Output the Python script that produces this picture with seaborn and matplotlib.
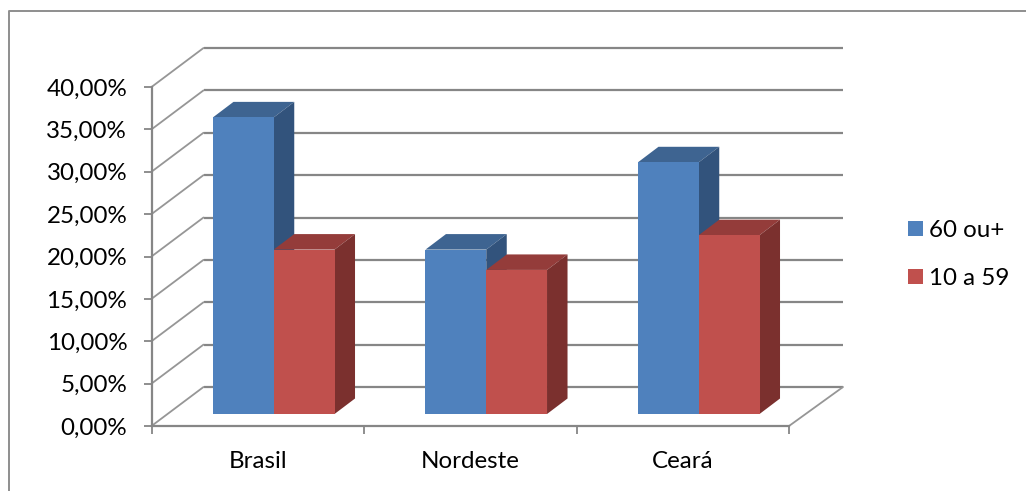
import matplotlib
matplotlib.use("Agg")
import matplotlib.pyplot as plt
from matplotlib.lines import Line2D
from matplotlib.patches import Polygon
from matplotlib.ticker import FixedLocator, FuncFormatter
from matplotlib.transforms import Affine2D
import pandas as pd
import seaborn as sns

# Share of each age group per region (%)
regions = ["Brasil", "Nordeste", "Ceará"]
age_groups = ["60 ou+", "10 a 59"]
values_60_plus = [35.0, 19.4, 29.7]
values_10_59 = [19.4, 17.0, 21.1]
y_ticks = [0, 5, 10, 15, 20, 25, 30, 35, 40]

FRONT = ["#4F81BD", "#C0504D"]
TOP = ["#3E6491", "#943C3A"]
SIDE = ["#32537C", "#7B302E"]
GRID = "#868686"
W, H = 1026, 491
FONT_SIZE = 17.4

sns.set_theme(style="white")
plt.rcParams["font.family"] = ["Lato", "DejaVu Sans"]

frame = pd.DataFrame({
    "region": regions * 2,
    "group": [age_groups[0]] * 3 + [age_groups[1]] * 3,
    "value": values_60_plus + values_10_59,
})

fig = plt.figure(figsize=(W / 100, H / 100), dpi=100, facecolor="white")
left, right, top, bottom = 151.5, 789.0, 87.0, 426.0
ax = fig.add_axes([left / W, (H - bottom) / H, (right - left) / W, (bottom - top) / H])
ax.patch.set_alpha(0)

sns.barplot(
    data=frame, x="region", y="value", hue="group",
    hue_order=age_groups, palette=FRONT, width=0.572, gap=0,
    saturation=1, linewidth=0, errorbar=None, ax=ax,
)
ax.set_xlim(-0.5, 2.5)
ax.set_ylim(0, 40)
ax.set_xlabel("")
ax.set_ylabel("")

# Pixel-to-data scale for the oblique projection
px_x = 3 / (right - left)
px_y = 40 / (bottom - top)
wall_dx, wall_dy = 52 * px_x, 39 * px_y
wall_end = 2.5 + 54 * px_x
bar_dx, bar_dy = 20.5 * px_x, 15.5 * px_y
shift_x, shift_y = 16 * px_x, 12 * px_y

# Back wall gridlines and the slanted lines on the side wall
for v in y_ticks:
    ax.plot([-0.5 + wall_dx, wall_end], [v + wall_dy] * 2, color=GRID,
            lw=1.6, clip_on=False, zorder=1, solid_capstyle="butt")
    ax.plot([-0.5, -0.5 + wall_dx], [v, v + wall_dy], color="#969696",
            lw=1.3, clip_on=False, zorder=1)
ax.plot([2.5, wall_end], [0, wall_dy], color="#969696", lw=1.3,
        clip_on=False, zorder=1)

# Bars are moved onto the floor and given top and side faces
bars = [p for p in ax.patches if p.get_height() > 0]
move = Affine2D().translate(shift_x, shift_y)
for i, patch in enumerate(bars):
    g = i // 3
    patch.set_transform(move + ax.transData)
    patch.set_clip_on(False)
    patch.set_zorder(3)
    x0 = patch.get_x() + shift_x
    x1 = x0 + patch.get_width()
    y0 = shift_y
    y1 = patch.get_height() + shift_y
    ax.add_patch(Polygon(
        [(x0, y1), (x1, y1), (x1 + bar_dx, y1 + bar_dy), (x0 + bar_dx, y1 + bar_dy)],
        closed=True, fc=TOP[g], ec="none", clip_on=False, zorder=2.5 + 0.1 * (i % 3)))
    ax.add_patch(Polygon(
        [(x1, y0), (x1 + bar_dx, y0 + bar_dy), (x1 + bar_dx, y1 + bar_dy), (x1, y1)],
        closed=True, fc=SIDE[g], ec="none", clip_on=False, zorder=2.5 + 0.1 * (i % 3)))

# Axes, ticks and labels
sns.despine(ax=ax)
for name in ("left", "bottom"):
    ax.spines[name].set_color(GRID)
    ax.spines[name].set_linewidth(1.6)
    ax.spines[name].set_zorder(4)

ax.yaxis.set_major_locator(FixedLocator(y_ticks))
ax.yaxis.set_major_formatter(FuncFormatter(lambda v, _: f"{v:.2f}%".replace(".", ",")))
ax.tick_params(axis="y", left=True, length=6, width=1.3, color=GRID, pad=11.5,
               labelsize=FONT_SIZE, labelcolor="black")
ax.xaxis.set_minor_locator(FixedLocator([-0.5, 0.5, 1.5, 2.5]))
ax.tick_params(axis="x", which="minor", bottom=True, length=6, width=1.3, color=GRID)
ax.tick_params(axis="x", which="major", bottom=False, pad=12, labelsize=FONT_SIZE,
               labelcolor="black")

leg = ax.legend(
    loc="upper left", bbox_to_anchor=(908 / W, (H - 220) / H),
    bbox_transform=fig.transFigure, frameon=False, fontsize=FONT_SIZE,
    handlelength=0.62, handleheight=0.62, handletextpad=0.24,
    labelspacing=1.12, borderpad=0, borderaxespad=0,
)
for text in leg.get_texts():
    text.set_color("black")

# Outer chart border, running off the top-right and bottom-left of the canvas
fig.add_artist(Line2D([8.5 / W, 8.5 / W, 1.0], [0, (H - 11) / H, (H - 11) / H],
                      color="#8E8E8E", lw=1.4, transform=fig.transFigure))

fig.savefig("out.png", dpi=100, facecolor="white")
